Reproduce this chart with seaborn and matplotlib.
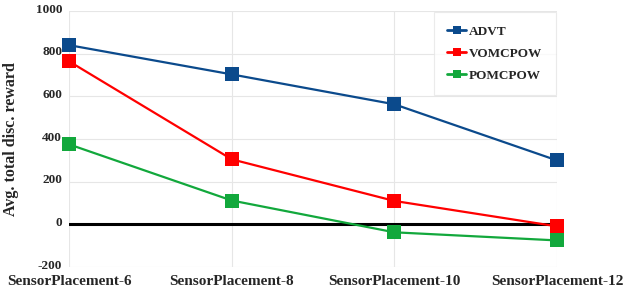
import matplotlib
matplotlib.use("Agg")
import matplotlib.pyplot as plt
import matplotlib.transforms as mtransforms
import seaborn as sns
import pandas as pd

categories = ["SensorPlacement-6", "SensorPlacement-8", "SensorPlacement-10", "SensorPlacement-12"]
advt = [840, 703, 563, 300]
vomcpow = [764, 305, 110, -9]
pomcpow = [375, 112, -37, -75]
series_names = ["ADVT", "VOMCPOW", "POMCPOW"]
yticks = [-200, 0, 200, 400, 600, 800, 1000]

rows = []
for name, vals in zip(series_names, [advt, vomcpow, pomcpow]):
    for c, v in zip(categories, vals):
        rows.append({"cat": c, "val": v, "series": name})
df = pd.DataFrame(rows)

sns.set_style("white")
plt.rcParams["font.family"] = ["Liberation Serif", "DejaVu Serif"]
plt.rcParams["font.weight"] = "bold"

fig = plt.figure(figsize=(6.23, 2.9), dpi=100)
ax = fig.add_axes([0.111, 0.079, 0.783, 0.883])

palette = {"ADVT": "#0b4a8c", "VOMCPOW": "#ff0000", "POMCPOW": "#12a83c"}
sns.lineplot(data=df, x="cat", y="val", hue="series", style="series",
             markers={"ADVT": "s", "VOMCPOW": "s", "POMCPOW": "s"}, dashes=False,
             palette=palette, markersize=9.5, linewidth=1.6, markeredgewidth=0,
             sort=False, ax=ax, zorder=3)
for ln in ax.lines:
    ln.set_clip_on(False)

ax.set_xlim(0, len(categories) - 1)
ax.set_ylim(-200, 1000)
ax.set_yticks(yticks)
ax.set_xticks(range(len(categories)))
ax.set_xticklabels(categories, fontsize=11, fontweight="bold")
ax.set_yticklabels([str(t) for t in yticks], fontsize=9.5, fontweight="bold")
ax.set_xlabel("")
ax.set_ylabel("Avg. total disc. reward", fontsize=11.5, fontweight="bold", labelpad=12)

ax.grid(True, color="#e6e6e6", linewidth=0.8)
ax.axhline(0, color="black", linewidth=2.2, zorder=2)
for s in ax.spines.values():
    s.set_visible(False)
ax.tick_params(axis="x", length=3, width=1.5, color="black", pad=6, direction="in")
ax.tick_params(axis="y", length=0, pad=5)

# labels sit slightly above their gridlines, as in the reference
offset = mtransforms.ScaledTranslation(0, 3 / 100, fig.dpi_scale_trans)
for lbl in ax.get_yticklabels():
    lbl.set_transform(lbl.get_transform() + offset)

leg = ax.legend(loc="upper right", bbox_to_anchor=(1.0, 1.0), frameon=True, fancybox=False,
                prop={"family": "Liberation Serif", "weight": "bold", "size": 9.5},
                handlelength=1.4, handletextpad=0.25, borderpad=1.0, labelspacing=0.75,
                borderaxespad=0.1)
leg.get_frame().set_edgecolor("#e6e6e6")
leg.get_frame().set_linewidth(0.8)
for h in leg.legend_handles:
    h.set_markersize(5.5)
    h.set_linewidth(2)

fig.savefig("out.png", dpi=100)
